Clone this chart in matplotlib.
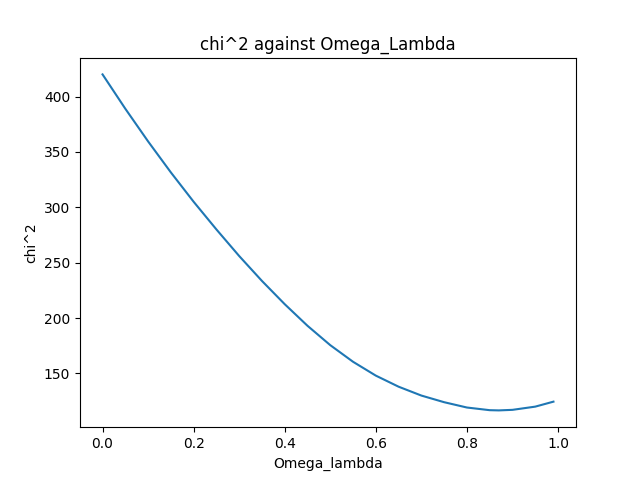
import matplotlib
matplotlib.use('Agg')
import matplotlib.pyplot as plt

# chi^2 values
omega_lambda = [0.00, 0.05, 0.10, 0.15, 0.20, 0.25, 0.30, 0.35, 0.40, 0.45,
                0.50, 0.55, 0.60, 0.65, 0.70, 0.75, 0.80, 0.85, 0.87, 0.90,
                0.95, 0.99]
chi2 = [420.0, 389.0, 359.5, 331.5, 305.0, 280.0, 256.0, 233.5, 212.5, 193.0,
        175.5, 160.5, 148.0, 138.0, 130.0, 124.0, 119.2, 116.8, 116.6, 117.1,
        120.0, 124.5]

fig = plt.figure(figsize=(6.4, 4.8), dpi=100)
plt.plot(omega_lambda, chi2)
plt.title('chi^2 against Omega_Lambda')
plt.xlabel('Omega_lambda')
plt.ylabel('chi^2')

fig.savefig('out.png', dpi=100)
